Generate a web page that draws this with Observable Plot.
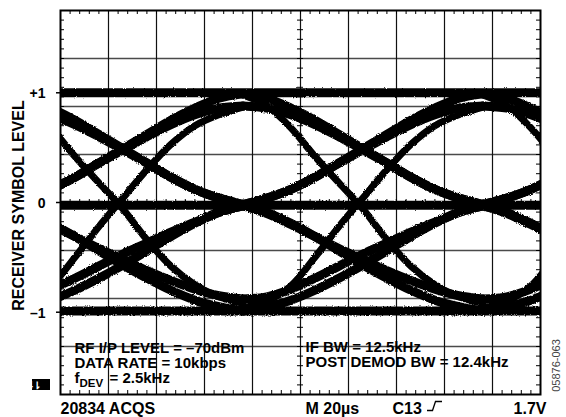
<!DOCTYPE html>
<html><head><meta charset="utf-8">
<script src="https://cdn.jsdelivr.net/npm/d3@7"></script>
<script src="https://cdn.jsdelivr.net/npm/@observablehq/plot@0.6"></script>
<style>
html,body{margin:0;padding:0;background:#fff;}
#chart{width:566px;height:417px;overflow:hidden;}
#chart svg{display:block;}
</style></head><body><div id="chart"></div>
<script>
// Sample instants (µs) across each symbol interval; symbol centres at −24, 76, 176, 276 µs
const tI0 = [-24, -14, -4, 6, 16, 26, 36, 46, 56, 66, 76];
const tI1 = [76, 86, 96, 106, 116, 126, 136, 146, 156, 166, 176];
const tI2 = [176, 186, 196, 206, 216, 226, 236, 246, 256, 266, 276];

// Receiver symbol level read along each transition family (one value per sample instant)
const lvZP = [-0.02, 0.04, 0.12, 0.23, 0.36, 0.48, 0.60, 0.71, 0.80, 0.86, 0.88];
const lvZF = [-0.02, 0.04, 0.12, 0.23, 0.36, 0.49, 0.62, 0.75, 0.86, 0.95, 0.99];
const lvPZ = [0.88, 0.86, 0.80, 0.71, 0.60, 0.48, 0.36, 0.23, 0.12, 0.04, -0.02];
const lvFZ = [0.99, 0.95, 0.86, 0.75, 0.62, 0.49, 0.36, 0.23, 0.12, 0.04, -0.02];
const lvNP = [-0.96, -0.90, -0.76, -0.50, -0.22, 0.04, 0.30, 0.53, 0.70, 0.80, 0.87];
const lvPN = [0.98, 0.88, 0.68, 0.42, 0.18, -0.06, -0.34, -0.58, -0.75, -0.86, -0.92];
const lvZM = [-0.03, -0.10, -0.20, -0.31, -0.42, -0.52, -0.62, -0.71, -0.79, -0.85, -0.88];
const lvZN = [-0.03, -0.09, -0.19, -0.31, -0.44, -0.57, -0.69, -0.80, -0.89, -0.95, -0.99];
const lvMZ = [-0.88, -0.86, -0.79, -0.69, -0.58, -0.47, -0.37, -0.27, -0.18, -0.09, -0.03];
const lvNZ = [-0.99, -0.95, -0.89, -0.80, -0.69, -0.57, -0.44, -0.31, -0.19, -0.09, -0.03];

// Steady symbol levels (flat traces) across the whole sweep
const flatTimes = [-5, 205];
const flatLevels = [1.0, -0.025, -0.99];

// Axis ticks
const yTickValues = [1, 0, -1];
const yTickLabels = ["+1", "0", "–1"];

// ---- build tables ----
const intervals = [tI0, tI1, tI2];
const arcFamilies = [["ZP", lvZP], ["ZF", lvZF], ["PZ", lvPZ], ["FZ", lvFZ],
                     ["ZM", lvZM], ["ZN", lvZN], ["MZ", lvMZ], ["NZ", lvNZ]];
const steepFamilies = [["NP", lvNP], ["PN", lvPN]];
function build(fams) {
  const rows = [];
  fams.forEach(([id, lv]) => intervals.forEach((ts, k) =>
    ts.forEach((t, i) => rows.push({id: id + k, t, v: lv[i]}))));
  return rows;
}
const arcRows = build(arcFamilies);
const steepRows = build(steepFamilies);
const flatRows = [];
flatLevels.forEach((v, j) => flatTimes.forEach(t => flatRows.push({id: "F" + j, t, v})));

// scope graticule (10 x 8 divisions) – layout only
const yDom = [-1.75, 1.75];
const divY = (yDom[1] - yDom[0]) / 8;
const gridX = d3.range(20, 200, 20);
const gridY = d3.range(1, 8).map(k => yDom[1] - k * divY);
const minorX = d3.range(4, 200, 4);
const minorY = d3.range(1, 40).map(k => yDom[0] + k * divY / 5);

const font = "Liberation Sans, Arial, Helvetica, sans-serif";
const T = (s, o) => Plot.text([s], Object.assign({fontSize: 15, fontWeight: "bold", fill: "black", textAnchor: "start", lineAnchor: "bottom"}, o));

const chart = Plot.plot({
  width: 566, height: 417,
  marginLeft: 60, marginRight: 26, marginTop: 10, marginBottom: 23,
  x: {domain: [0, 200], axis: null},
  y: {domain: yDom, axis: null},
  style: {fontFamily: font, background: "white", color: "black"},
  marks: [
    Plot.ruleY(gridY, {stroke: "#4a4a4a", strokeWidth: 1.6}),
    Plot.ruleX(gridX, {stroke: "#111", strokeWidth: 1.2}),
    Plot.lineY(flatRows, {x: "t", y: "v", z: "id", stroke: "black", strokeWidth: 9, clip: true}),
    Plot.lineY(arcRows, {x: "t", y: "v", z: "id", stroke: "black", strokeWidth: 9, curve: "catmull-rom", strokeLinecap: "round", clip: true}),
    Plot.lineY(steepRows, {x: "t", y: "v", z: "id", stroke: "black", strokeWidth: 7, curve: "catmull-rom", strokeLinecap: "round", clip: true}),
    Plot.frame({stroke: "black", strokeWidth: 2}),
    Plot.tickX(minorX, {x: d => d, stroke: "black", insetBottom: 380}),
    Plot.tickX(minorX, {x: d => d, stroke: "black", insetTop: 380}),
    Plot.tickX(minorX, {x: d => d, stroke: "black", insetTop: 189, insetBottom: 189}),
    Plot.tickY(minorY, {y: d => d, stroke: "black", insetRight: 476}),
    Plot.tickY(minorY, {y: d => d, stroke: "black", insetLeft: 476}),
    Plot.tickY(minorY, {y: d => d, stroke: "black", insetLeft: 237, insetRight: 237}),
    // y-axis ticks just outside the left border, and their labels
    Plot.tickY(yTickValues, {y: d => d, stroke: "black", strokeWidth: 1.5, insetLeft: -4, insetRight: 480}),
    Plot.text(yTickValues, {y: d => d, text: d => yTickLabels[yTickValues.indexOf(d)], frameAnchor: "left", dx: -15, dy: 1, textAnchor: "end", lineAnchor: "middle", fontSize: 14, fontWeight: "bold", fill: "black"}),
    T("RECEIVER SYMBOL LEVEL", {fontSize: 16, frameAnchor: "left", dx: -42, dy: 3, rotate: -90, textAnchor: "middle", lineAnchor: "middle"}),
    T("RF I/P LEVEL = –70dBm", {frameAnchor: "top-left", dx: 14, dy: 342}),
    T("DATA RATE = 10kbps", {frameAnchor: "top-left", dx: 14, dy: 357}),
    T("f", {frameAnchor: "top-left", dx: 14, dy: 372}),
    T("DEV", {frameAnchor: "top-left", dx: 19, dy: 376, fontSize: 11.5}),
    T("= 2.5kHz", {frameAnchor: "top-left", dx: 49, dy: 372}),
    T("IF BW = 12.5kHz", {frameAnchor: "top-left", dx: 245, dy: 341}),
    T("POST DEMOD BW = 12.4kHz", {frameAnchor: "top-left", dx: 245, dy: 356}),
    T("20834 ACQS", {fontSize: 16, frameAnchor: "bottom-left", dx: 0, dy: 19}),
    T("M 20µs", {fontSize: 16, frameAnchor: "bottom-left", dx: 245, dy: 19}),
    T("C13", {fontSize: 16, frameAnchor: "bottom-left", dx: 332, dy: 19}),
    T("1.7V", {fontSize: 16, frameAnchor: "bottom-right", dx: 6, dy: 19, textAnchor: "end"}),
    T("05876-063", {frameAnchor: "bottom-right", dx: 16, dy: -29, rotate: -90, textAnchor: "middle", lineAnchor: "middle", fontSize: 11, fontWeight: "normal", fill: "#444"})
  ]
});
document.getElementById("chart").appendChild(chart);

// scope decorations: rough trace edges, trigger-edge glyph, channel marker
const svg = d3.select(chart);
const defs = svg.insert("defs", ":first-child");
const f = defs.append("filter").attr("id", "rough").attr("x", "-5%").attr("y", "-5%").attr("width", "110%").attr("height", "110%");
f.append("feTurbulence").attr("type", "fractalNoise").attr("baseFrequency", 0.9).attr("numOctaves", 1).attr("seed", 3).attr("result", "n");
f.append("feDisplacementMap").attr("in", "SourceGraphic").attr("in2", "n").attr("scale", 3).attr("xChannelSelector", "R").attr("yChannelSelector", "G");
svg.selectAll("g[aria-label='line']").attr("filter", "url(#rough)");
svg.append("path").attr("d", "M427,410.5H432.5L435.5,401.5H442").attr("fill", "none").attr("stroke", "black").attr("stroke-width", 1.3);
svg.append("rect").attr("x", 32).attr("y", 379).attr("width", 18).attr("height", 11).attr("fill", "black");
svg.append("text").attr("x", 34).attr("y", 388.5).attr("fill", "white").attr("font-size", 10).attr("font-weight", "bold").attr("font-family", font).text("4⇂");
</script></body></html>
